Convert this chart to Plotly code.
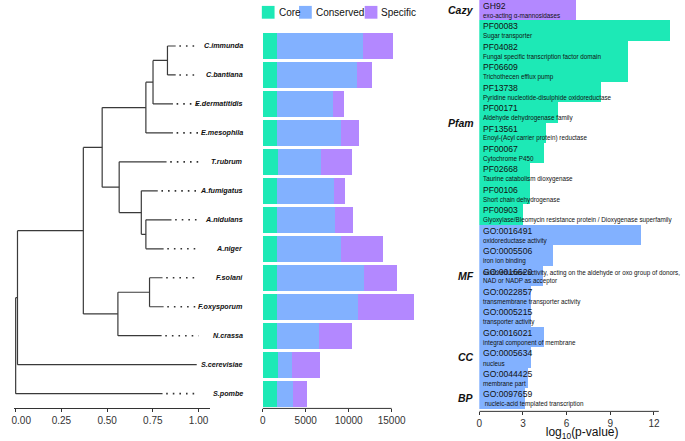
import plotly.graph_objects as go

W, H = 685, 441
FONT = "Liberation Sans, Arial, Helvetica, sans-serif"

# ---------------- data ----------------
species = ["C.immunda", "C.bantiana", "E.dermatitidis", "E.mesophila", "T.rubrum",
           "A.fumigatus", "A.nidulans", "A.niger", "F.solani", "F.oxysporum",
           "N.crassa", "S.cerevisiae", "S.pombe"]
core = [1600, 1600, 1600, 1600, 1820, 1600, 1600, 1600, 1600, 1600, 1600, 1750, 1630]
conserved = [10020, 9370, 6600, 7550, 4900, 6680, 6830, 7475, 10130, 9525, 4890, 1630, 1860]
specific = [3530, 1710, 1255, 2090, 3645, 1290, 2050, 4895, 3880, 6495, 3875, 3230, 1635]
series_names = ["Core", "Conserved", "Specific"]
bar_ticks = [0, 5000, 10000, 15000]

# tree topology with node depths: (name, depth, children) / (leaf, depth)
tree = ("root", 0.0, [
    ("n1", 0.01, [
        ("n2", 0.37, [
            ("n3", 0.473, [
                ("n4", 0.712, [
                    ("n5", 0.751, [
                        ("n6", 0.83, [("C.immunda", 0.875), ("C.bantiana", 0.875)]),
                        ("E.dermatitidis", 0.86)]),
                    ("E.mesophila", 0.86)]),
                ("n7", 0.566, [
                    ("T.rubrum", 0.825),
                    ("n8", 0.687, [
                        ("A.fumigatus", 0.777),
                        ("n9", 0.712, [("A.nidulans", 0.852), ("A.niger", 0.809)])])])]),
            ("n10", 0.559, [
                ("n11", 0.732, [("F.solani", 0.803), ("F.oxysporum", 0.809)]),
                ("N.crassa", 0.798)])]),
        ("S.cerevisiae", 0.99)]),
    ("S.pombe", 0.803)])
tree_ticks = [0, 0.25, 0.5, 0.75, 1.0]
tree_ticktext = ["\u00a0\u00a0\u00a0\u00a00.00", "0.25", "0.50", "0.75", "1.00"]

enrich_ids = ["GH92", "PF00083", "PF04082", "PF06609", "PF13738", "PF00171", "PF13561",
              "PF00067", "PF02668", "PF00106", "PF00903", "GO:0016491", "GO:0005506",
              "GO:0016620", "GO:0022857", "GO:0005215", "GO:0016021", "GO:0005634",
              "GO:0044425", "GO:0097659"]
enrich_desc = ["exo-acting \u03b1-mannosidases", "Sugar transporter",
               "Fungal specific transcription factor domain", "Trichothecen efflux pump",
               "Pyridine nucleotide-disulphide oxidoreductase", "Aldehyde dehydrogenase family",
               "Enoyl-(Acyl carrier protein) reductase", "Cytochrome P450",
               "Taurine catabolism dioxygenase", "Short chain dehydrogenase",
               "Glyoxylase/Bleomycin resistance protein / Dioxygenase superfamily",
               "oxidoreductase activity", "iron ion binding",
               "oxidoreductase activity, acting on the aldehyde or oxo group of donors,<br>NAD or NADP as acceptor",
               "transmembrane transporter activity", "transporter activity",
               "integral component of membrane", "nucleus", "membrane part",
               "\u00a0nucleic-acid templated transcription"]
enrich_logp = [6.62, 13.12, 10.2, 10.2, 8.37, 5.38, 4.6, 4.44, 3.45, 3.45, 2.98,
               11.1, 5.09, 4.35, 3.55, 3.55, 4.44, 3.55, 3.32, 3.14]
enrich_group = ["Cazy"] + ["Pfam"] * 10 + ["MF"] * 5 + ["CC"] * 3 + ["BP"]
group_order = ["Cazy", "Pfam", "MF", "CC", "BP"]
enrich_ticks = [0, 3, 6, 9, 12]

C_CORE, C_CONS, C_SPEC = "#1DE9B6", "#82B1FF", "#B388FF"
series_colors = [C_CORE, C_CONS, C_SPEC]
group_color = {"Cazy": C_SPEC, "Pfam": C_CORE, "MF": C_CONS, "CC": C_CONS, "BP": C_CONS}

# ---------------- tree layout ----------------
n = len(species)
leaf_y = {s: n - 1 - i for i, s in enumerate(species)}
tx, ty = [], []
leaf_tip = {}


def layout(node, parent_x):
    if len(node) == 2:
        name, x = node
        y = leaf_y[name]
        leaf_tip[name] = x
    else:
        name, x, children = node
        ys = [layout(c, x) for c in children]
        y = sum(ys) / len(ys)
        tx.extend([x, x, None])
        ty.extend([min(ys), max(ys), None])
    if parent_x is not None:
        tx.extend([parent_x, x, None])
        ty.extend([y, y, None])
    return y


layout(tree, None)

dx, dy = [], []
for s in species:
    if leaf_tip[s] < 0.97:
        dx.extend([leaf_tip[s] + 0.02, 1.0, None])
        dy.extend([leaf_y[s], leaf_y[s], None])

fig = go.Figure()
fig.add_trace(go.Scatter(x=tx, y=ty, mode="lines", line=dict(color="#3a3a3a", width=1.2),
                         showlegend=False, hoverinfo="skip", xaxis="x", yaxis="y"))
fig.add_trace(go.Scatter(x=dx, y=dy, mode="lines",
                         line=dict(color="#333", width=1.6, dash="1.6px,5px"),
                         showlegend=False, hoverinfo="skip", xaxis="x", yaxis="y"))

# ---------------- stacked bars ----------------
ypos = [leaf_y[s] for s in species]
for name, vals, col in zip(series_names, [core, conserved, specific], series_colors):
    fig.add_trace(go.Bar(x=vals, y=ypos, orientation="h", name=name, width=0.9,
                         marker=dict(color=col, line=dict(width=0)), showlegend=False,
                         xaxis="x2", yaxis="y2"))

# ---------------- enrichment bars ----------------
idx = list(range(len(enrich_ids)))
fig.add_trace(go.Bar(x=enrich_logp, y=idx, orientation="h", width=1.0,
                     marker=dict(color=[group_color[g] for g in enrich_group], line=dict(width=0)),
                     showlegend=False, xaxis="x3", yaxis="y3"))

ann = []
shapes = []
for s in species:
    ann.append(dict(x=236 / W, xref="paper", xanchor="right", y=leaf_y[s], yref="y",
                    text=s, showarrow=False,
                    font=dict(family=FONT, size=7.2, color="#111", weight="bold", style="italic")))
for i in idx:
    ann.append(dict(x=0.12, xref="x3", y=i - 0.5, yref="y3", xanchor="left", yanchor="top",
                    yshift=1, text=enrich_ids[i], showarrow=False, align="left",
                    font=dict(family=FONT, size=8.6, color="#111")))
    ann.append(dict(x=0.12, xref="x3", y=i + 0.5, yref="y3", xanchor="left", yanchor="bottom",
                    yshift=-1.5, text=enrich_desc[i], showarrow=False, align="left",
                    font=dict(family=FONT, size=6.3, color="#111")))
for g in group_order:
    members = [i for i in idx if enrich_group[i] == g]
    ann.append(dict(x=472 / W, xref="paper", xanchor="right",
                    y=sum(members) / len(members), yref="y3", text=g, showarrow=False,
                    font=dict(family=FONT, size=10.5, color="#111", weight="bold", style="italic")))

# legend (keys + labels) drawn compactly like the reference
key_left = [253, 291, 358]
for name, col, kx in zip(series_names, series_colors, key_left):
    shapes.append(dict(type="rect", xref="paper", yref="paper", x0=kx / W, x1=(kx + 13) / W,
                       y0=1 - 19 / H, y1=1 - 6 / H, fillcolor=col, line=dict(width=0)))
    ann.append(dict(x=(kx + 15) / W, xref="paper", xanchor="left", y=1 - 12.5 / H, yref="paper",
                    yanchor="middle", text=name, showarrow=False,
                    font=dict(family=FONT, size=10, color="#111")))

shapes += [
    dict(type="line", xref="x2", yref="y2 domain", x0=0, x1=15000, y0=0, y1=0,
         line=dict(color="#333", width=1)),
    dict(type="line", xref="x3", yref="y3 domain", x0=0, x1=12.33, y0=0, y1=0,
         line=dict(color="#333", width=1)),
]

tickfont = dict(family=FONT, size=10, color="#333")
ydom = [26 / H, 411 / H]
yrng = [-0.5095, 12.568]

fig.update_layout(
    width=W, height=H, margin=dict(l=0, r=0, t=0, b=0),
    paper_bgcolor="white", plot_bgcolor="white", barmode="stack",
    font=dict(family=FONT, color="#111"), showlegend=False,
    xaxis=dict(domain=[0, 200 / W], range=[-0.0091, 1.0621], showline=True, linecolor="#333",
               linewidth=1, ticks="outside", ticklen=3, tickcolor="#333", tickvals=tree_ticks,
               ticktext=tree_ticktext, tickfont=tickfont, showgrid=False, zeroline=False,
               ticklabeloverflow="allow", anchor="y"),
    yaxis=dict(domain=ydom, range=yrng, visible=False, anchor="x"),
    xaxis2=dict(domain=[253 / W, 412 / W], range=[-114, 18023], showline=False, ticks="outside",
                ticklen=3, tickcolor="#333", tickvals=bar_ticks,
                ticktext=[str(v) for v in bar_ticks], tickfont=tickfont,
                showgrid=False, zeroline=False, anchor="y2"),
    yaxis2=dict(domain=ydom, range=yrng, visible=False, anchor="x2"),
    xaxis3=dict(domain=[475 / W, 1], range=[0, 14.13], showline=False, ticks="outside",
                ticklen=3, tickcolor="#333", tickvals=enrich_ticks,
                ticktext=[str(v) for v in enrich_ticks], tickfont=tickfont,
                showgrid=False, zeroline=False, anchor="y3",
                title=dict(text="log<sub>10</sub>(p-value)", standoff=3,
                           font=dict(family=FONT, size=12, color="#111"))),
    yaxis3=dict(domain=[23 / H, 1], range=[19.64, -0.5], visible=False, anchor="x3"),
    annotations=ann,
    shapes=shapes,
)

fig.write_html("out.html", config={"displayModeBar": False},
               post_script="document.body.style.margin='0';")
